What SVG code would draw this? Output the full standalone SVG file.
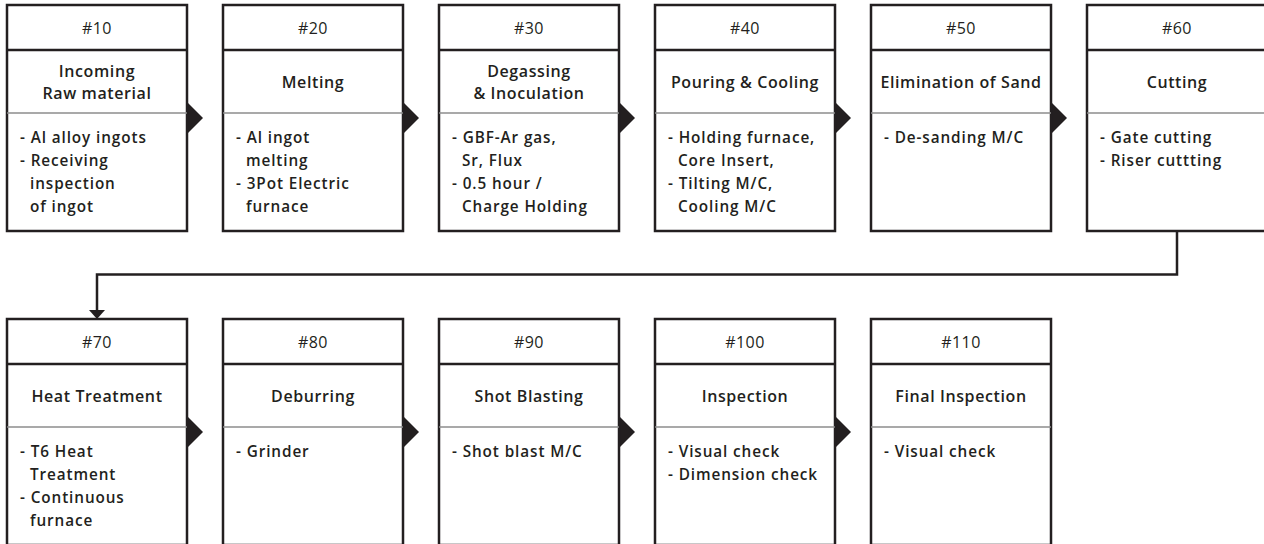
<svg xmlns="http://www.w3.org/2000/svg" width="1264" height="544" viewBox="0 0 1264 544">
<style>
.box{fill:#fff;stroke:#231f20;stroke-width:2.5}
.hl{stroke:#231f20;stroke-width:2.5}
.dl{stroke:#8c8c8c;stroke-width:1.3}
.hd{font-family:"Open Sans","Liberation Sans",sans-serif;font-size:16px;letter-spacing:0.4px;fill:#231f20;text-anchor:middle}
.tt{font-family:"Open Sans","Liberation Sans",sans-serif;font-size:16px;font-weight:600;letter-spacing:0.6px;fill:#231f20;text-anchor:middle}
.bd{font-family:"Open Sans","Liberation Sans",sans-serif;font-size:15.3px;font-weight:600;letter-spacing:0.9px;fill:#231f20}
.ar{fill:#231f20}
.cn{fill:none;stroke:#231f20;stroke-width:2.5}
</style>
<defs>
<g id="frame1">
<rect class="box" x="0" y="0" width="180" height="226"/>
<line class="hl" x1="0" y1="45" x2="180" y2="45"/>
<line class="dl" x1="0" y1="108" x2="180" y2="108"/>
</g>
</defs>

<g id="connectors">
<polygon class="ar" points="187,102 203,118 187,134"/>
<polygon class="ar" points="403,102 419,118 403,134"/>
<polygon class="ar" points="619,102 635,118 619,134"/>
<polygon class="ar" points="835,102 851,118 835,134"/>
<polygon class="ar" points="1051,102 1067,118 1051,134"/>
<polygon class="ar" points="187,416 203,432 187,448"/>
<polygon class="ar" points="403,416 419,432 403,448"/>
<polygon class="ar" points="619,416 635,432 619,448"/>
<polygon class="ar" points="835,416 851,432 835,448"/>
<polyline class="cn" points="1177,232 1177,274.5 97,274.5 97,311"/>
<polygon class="ar" points="89,310 105,310 97,319"/>
</g>

<g id="n10" transform="translate(7,5)">
<use href="#frame1"/>
<text class="hd" x="90" y="29">#10</text>
<text class="tt" x="90" y="72">Incoming</text>
<text class="tt" x="90" y="94">Raw material</text>
<text class="bd" x="13" y="138">- Al alloy ingots</text>
<text class="bd" x="13" y="161">- Receiving</text>
<text class="bd" x="23" y="184">inspection</text>
<text class="bd" x="23" y="207">of ingot</text>
</g>

<g id="n20" transform="translate(223,5)">
<use href="#frame1"/>
<text class="hd" x="90" y="29">#20</text>
<text class="tt" x="90" y="83">Melting</text>
<text class="bd" x="13" y="138">- Al ingot</text>
<text class="bd" x="23" y="161">melting</text>
<text class="bd" x="13" y="184">- 3Pot Electric</text>
<text class="bd" x="23" y="207">furnace</text>
</g>

<g id="n30" transform="translate(439,5)">
<use href="#frame1"/>
<text class="hd" x="90" y="29">#30</text>
<text class="tt" x="90" y="72">Degassing</text>
<text class="tt" x="90" y="94">&amp; Inoculation</text>
<text class="bd" x="13" y="138">- GBF-Ar gas,</text>
<text class="bd" x="23" y="161">Sr, Flux</text>
<text class="bd" x="13" y="184">- 0.5 hour /</text>
<text class="bd" x="23" y="207">Charge Holding</text>
</g>

<g id="n40" transform="translate(655,5)">
<use href="#frame1"/>
<text class="hd" x="90" y="29">#40</text>
<text class="tt" x="90" y="83">Pouring &amp; Cooling</text>
<text class="bd" x="13" y="138">- Holding furnace,</text>
<text class="bd" x="23" y="161">Core Insert,</text>
<text class="bd" x="13" y="184">- Tilting M/C,</text>
<text class="bd" x="23" y="207">Cooling M/C</text>
</g>

<g id="n50" transform="translate(871,5)">
<use href="#frame1"/>
<text class="hd" x="90" y="29">#50</text>
<text class="tt" x="90" y="83">Elimination of Sand</text>
<text class="bd" x="13" y="138">- De-sanding M/C</text>
</g>

<g id="n60" transform="translate(1087,5)">
<use href="#frame1"/>
<text class="hd" x="90" y="29">#60</text>
<text class="tt" x="90" y="83">Cutting</text>
<text class="bd" x="13" y="138">- Gate cutting</text>
<text class="bd" x="13" y="161">- Riser cuttting</text>
</g>

<g id="n70" transform="translate(7,319)">
<use href="#frame1"/>
<text class="hd" x="90" y="29">#70</text>
<text class="tt" x="90" y="83">Heat Treatment</text>
<text class="bd" x="13" y="138">- T6 Heat</text>
<text class="bd" x="23" y="161">Treatment</text>
<text class="bd" x="13" y="184">- Continuous</text>
<text class="bd" x="23" y="207">furnace</text>
</g>

<g id="n80" transform="translate(223,319)">
<use href="#frame1"/>
<text class="hd" x="90" y="29">#80</text>
<text class="tt" x="90" y="83">Deburring</text>
<text class="bd" x="13" y="138">- Grinder</text>
</g>

<g id="n90" transform="translate(439,319)">
<use href="#frame1"/>
<text class="hd" x="90" y="29">#90</text>
<text class="tt" x="90" y="83">Shot Blasting</text>
<text class="bd" x="13" y="138">- Shot blast M/C</text>
</g>

<g id="n100" transform="translate(655,319)">
<use href="#frame1"/>
<text class="hd" x="90" y="29">#100</text>
<text class="tt" x="90" y="83">Inspection</text>
<text class="bd" x="13" y="138">- Visual check</text>
<text class="bd" x="13" y="161">- Dimension check</text>
</g>

<g id="n110" transform="translate(871,319)">
<use href="#frame1"/>
<text class="hd" x="90" y="29">#110</text>
<text class="tt" x="90" y="83">Final Inspection</text>
<text class="bd" x="13" y="138">- Visual check</text>
</g>
</svg>
